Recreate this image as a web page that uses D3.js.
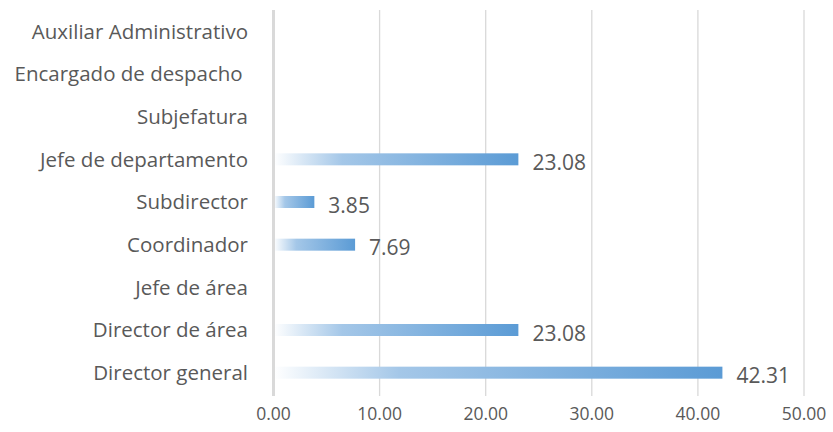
<!DOCTYPE html>
<html>
<head>
<meta charset="utf-8">
<script src="https://cdn.jsdelivr.net/npm/d3@7"></script>
<style>
	body { margin: 0; background: #fff; }
	svg text { font-family: "Open Sans", "Noto Sans", sans-serif; fill: #595959; white-space: pre; }
</style>
</head>
<body>
<svg id="chart" width="833" height="432"></svg>
<script>
// categories from top to bottom
const categories = [
	"Auxiliar Administrativo",
	"Encargado de despacho ",
	"Subjefatura",
	"Jefe de departamento",
	"Subdirector",
	"Coordinador",
	"Jefe de área",
	"Director de área",
	"Director general"
];
const values = [0, 0, 0, 23.08, 3.85, 7.69, 0, 23.08, 42.31];
const ticks = [0, 10, 20, 30, 40, 50];

const svg = d3.select("#chart");

const x = d3.scaleLinear().domain([0, 50]).range([273.5, 804]);
const y = d3.scaleBand().domain(categories).range([10, 394]).paddingInner(0).paddingOuter(0);
const barH = 12;

// gradient for bars
const grad = svg.append("defs").append("linearGradient")
	.attr("id", "barGrad")
	.attr("x1", "0").attr("x2", "1").attr("y1", "0").attr("y2", "0");
grad.append("stop").attr("offset", "0").attr("stop-color", "#ffffff");
grad.append("stop").attr("offset", "0.28").attr("stop-color", "#a4c7e8");
grad.append("stop").attr("offset", "1").attr("stop-color", "#5b9bd5");

// gridlines
svg.append("g")
	.selectAll("line")
	.data(ticks.slice(1))
	.join("line")
	.attr("x1", d => x(d)).attr("x2", d => x(d))
	.attr("y1", 10).attr("y2", 396)
	.attr("stroke", "#d9d9d9")
	.attr("stroke-width", 1.3);

// tick labels
svg.append("g")
	.selectAll("text")
	.data(ticks)
	.join("text")
	.attr("x", d => x(d))
	.attr("y", 420)
	.attr("text-anchor", "middle")
	.style("font-size", "17.5px")
	.text(d => d.toFixed(2));

const shown = values.map((v, i) => ({ cat: categories[i], v })).filter(d => d.v > 0);

// bars
svg.append("g")
	.selectAll("rect")
	.data(shown)
	.join("rect")
	.attr("x", x(0))
	.attr("y", d => y(d.cat) + y.bandwidth() / 2 - barH / 2)
	.attr("width", d => x(d.v) - x(0))
	.attr("height", barH)
	.attr("fill", "url(#barGrad)");

// value labels
svg.append("g")
	.selectAll("text")
	.data(shown)
	.join("text")
	.attr("x", d => x(d.v) + 14)
	.attr("y", d => y(d.cat) + y.bandwidth() / 2 + 3)
	.attr("dy", "0.36em")
	.style("font-size", "21px")
	.text(d => d.v.toFixed(2));

// zero axis line
svg.append("line")
	.attr("x1", x(0)).attr("x2", x(0))
	.attr("y1", 10).attr("y2", 396)
	.attr("stroke", "#d9d9d9")
	.attr("stroke-width", 3);

// category labels
svg.append("g")
	.selectAll("text")
	.data(categories)
	.join("text")
	.attr("x", 248)
	.attr("y", d => y(d) + y.bandwidth() / 2)
	.attr("dy", "0.36em")
	.attr("text-anchor", "end")
	.style("font-size", "20.5px")
	.text(d => d);
</script>
</body>
</html>
